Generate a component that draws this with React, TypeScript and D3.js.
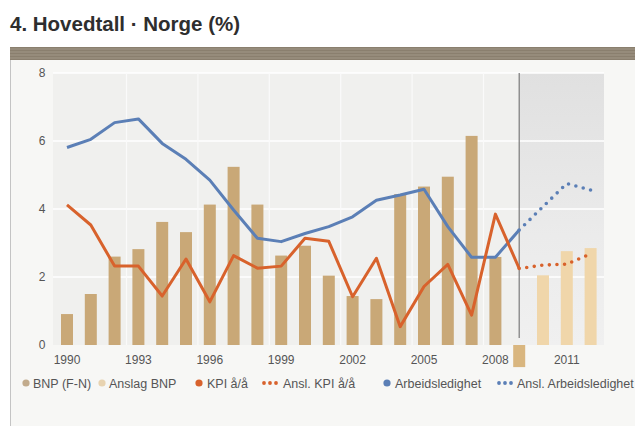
import React from "react";
import * as d3 from "d3";

const years = [1990,1991,1992,1993,1994,1995,1996,1997,1998,1999,2000,2001,2002,2003,2004,2005,2006,2007,2008,2009];
const bnp = [0.91,1.5,2.6,2.82,3.62,3.32,4.13,5.24,4.13,2.63,2.92,2.04,1.44,1.35,4.44,4.66,4.95,6.15,2.59,-0.65];
const anslagYears = [2010,2011,2012];
const anslagBnp = [2.05,2.76,2.85];
const kpi = [4.12,3.53,2.32,2.32,1.44,2.53,1.27,2.63,2.26,2.32,3.14,3.05,1.42,2.55,0.54,1.72,2.37,0.88,3.85,2.25];
const anslKpiYears = [2009,2010,2011,2012];
const anslKpi = [2.25,2.35,2.38,2.68];
const arbeid = [5.81,6.05,6.54,6.65,5.93,5.46,4.85,3.97,3.14,3.04,3.28,3.48,3.77,4.26,4.41,4.58,3.48,2.58,2.58,3.38];
const anslArbeid = [3.38,4.07,4.75,4.56];
const yTicks = [0,2,4,6,8];
const xTicks = [1990,1993,1996,1999,2002,2005,2008,2011];
const title = "4. Hovedtall · Norge (%)";

const FONT = "'Liberation Sans', Arial, sans-serif";

export default function App() {
  const x = d3.scaleLinear().domain([1990, 2012]).range([67, 67 + 22 * 23.8]);
  const y = d3.scaleLinear().domain([0, 8]).range([345, 73]);
  const bw = 12;
  const line = d3.line<[number, number]>().x(d => x(d[0])).y(d => y(d[1]));
  const plotL = 53, plotR = 604, plotT = y(8), plotB = y(0);
  const split = x(2009);

  const legend = [
    { type: "dot", color: "#c2ab8c", label: "BNP (F-N)", cx: 26, tx: 33 },
    { type: "dot", color: "#e8d3b0", label: "Anslag BNP", cx: 102, tx: 109 },
    { type: "dot", color: "#d8622c", label: "KPI å/å", cx: 199, tx: 207 },
    { type: "dots", color: "#d8622c", label: "Ansl. KPI å/å", cx: 270, tx: 283 },
    { type: "dot", color: "#5b7fb6", label: "Arbeidsledighet", cx: 387, tx: 395 },
    { type: "dots", color: "#5b7fb6", label: "Ansl. Arbeidsledighet", cx: 505, tx: 517 },
  ];

  return (
    <div style={{ position: "fixed", left: 0, top: 0 }}>
      <svg width={635} height={426} style={{ display: "block" }}>
        <defs>
          <pattern id="hatch" width="4" height="3" patternUnits="userSpaceOnUse">
            <rect width="4" height="3" fill="#8a7f6e" />
            <line x1="0" y1="1" x2="4" y2="1" stroke="#a89e8e" strokeWidth="0.8" />
          </pattern>
          <linearGradient id="fc" x1="0" y1="0" x2="0" y2="1">
            <stop offset="0" stopColor="#e0e0e0" />
            <stop offset="0.6" stopColor="#ebebeb" />
            <stop offset="1" stopColor="#f0f0f0" />
          </linearGradient>
        </defs>
        <rect width={635} height={426} fill="#ffffff" />
        <text x={10} y={31} fontFamily={FONT} fontWeight="bold" fontSize={20.5} fill="#2e2e2e">{title}</text>
        <rect x={10} y={60} width={625} height={366} fill="#f7f7f5" />
        <line x1={10.5} y1={60} x2={10.5} y2={426} stroke="#c4c4c4" strokeWidth={1} />
        <rect x={10} y={47} width={625} height={13} fill="url(#hatch)" />
        <rect x={plotL} y={plotT} width={plotR - plotL} height={plotB - plotT} fill="#f0f0ee" />
        <rect x={split} y={plotT} width={plotR - split} height={plotB - plotT} fill="url(#fc)" />
        {yTicks.filter(t => t > 0).map(t => (
          <line key={t} x1={plotL} x2={plotR} y1={y(t)} y2={y(t)} stroke="#ffffff" strokeWidth={1.6} />
        ))}
        {xTicks.slice(1, 7).map(t => (
          <line key={t} x1={x(t - 0.5)} x2={x(t - 0.5)} y1={plotT} y2={plotB} stroke="#fafafa" strokeWidth={1.2} />
        ))}
        {yTicks.map(t => (
          <text key={t} x={42} y={y(t) + 4} textAnchor="middle" fontFamily={FONT} fontSize={12} fill="#555">{t}</text>
        ))}
        {xTicks.map(t => (
          <text key={t} x={x(t)} y={364} textAnchor="middle" fontFamily={FONT} fontSize={12} fill="#555">{t}</text>
        ))}
        {years.map((yr, i) => (
          <rect key={yr} x={x(yr) - bw / 2} y={y(Math.max(0, bnp[i]))} width={bw}
            height={Math.abs(y(bnp[i]) - y(0))} fill={bnp[i] < 0 ? "#d9b67f" : "#c9a877"} />
        ))}
        {anslagYears.map((yr, i) => (
          <rect key={yr} x={x(yr) - bw / 2} y={y(anslagBnp[i])} width={bw}
            height={y(0) - y(anslagBnp[i])} fill="#f0d6aa" />
        ))}
        <line x1={split} x2={split} y1={plotT} y2={338} stroke="#7a7a7a" strokeWidth={1.2} />
        <path d={line(years.map((yr, i) => [yr, arbeid[i]]))!} fill="none" stroke="#5b7fb6" strokeWidth={3} strokeLinejoin="round" />
        <path d={line(anslKpiYears.map((yr, i) => [yr, anslArbeid[i]]))!} fill="none" stroke="#5b7fb6" strokeWidth={3.6} strokeLinecap="round" strokeDasharray="0 7.6" />
        <path d={line(years.map((yr, i) => [yr, kpi[i]]))!} fill="none" stroke="#d8622c" strokeWidth={3} strokeLinejoin="round" />
        <path d={line(anslKpiYears.map((yr, i) => [yr, anslKpi[i]]))!} fill="none" stroke="#d8622c" strokeWidth={3.6} strokeLinecap="round" strokeDasharray="0 7.6" />
        {legend.map(l => (
          <g key={l.label}>
            {l.type === "dot" ? (
              <circle cx={l.cx} cy={383} r={3.6} fill={l.color} />
            ) : (
              [-6, 0, 6].map(dx => <circle key={dx} cx={l.cx + dx} cy={383} r={1.9} fill={l.color} />)
            )}
            <text x={l.tx} y={387.5} fontFamily={FONT} fontSize={12.5} fill="#555">{l.label}</text>
          </g>
        ))}
      </svg>
    </div>
  );
}
